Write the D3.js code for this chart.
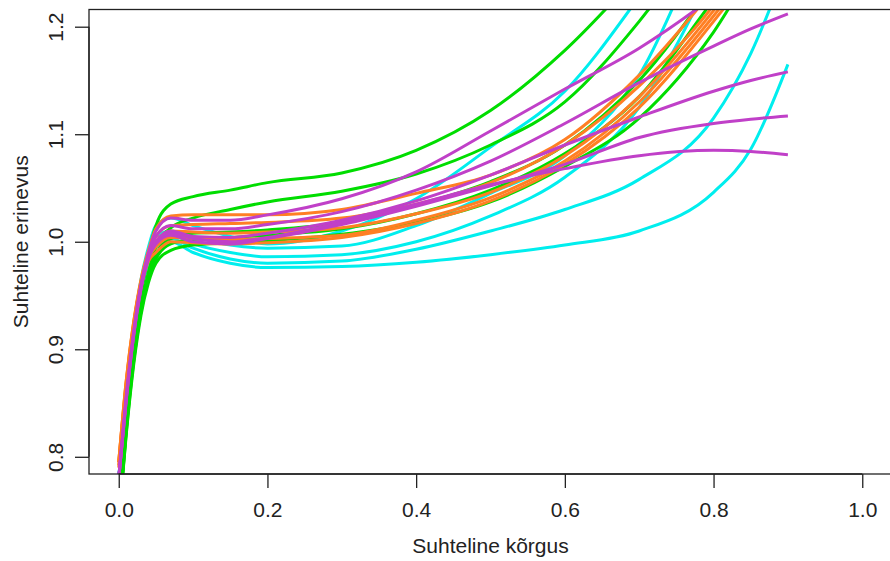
<!DOCTYPE html>
<html>
<head>
<meta charset="utf-8">
<script src="https://cdn.jsdelivr.net/npm/d3@7"></script>
<style>
  body { margin: 0; background: #fff; }
  svg { display: block; font-family: "Liberation Sans", Arial, sans-serif; }
</style>
</head>
<body>
<div id="chart"></div>
<script>
// relative height grid shared by all curves
const heights = [0, 0.01, 0.02, 0.03, 0.04, 0.05, 0.07, 0.1, 0.15, 0.2, 0.3, 0.4, 0.5, 0.6, 0.7, 0.8, 0.85, 0.9];

const cyanSeries = [
  [0.78, 0.86, 0.92, 0.965, 0.995, 1.015, 1.022, 1.015, 1.005, 0.998, 1.01, 1.04, 1.088, 1.14, 1.228, 1.33, 1.38, 1.43],
  [0.78, 0.86, 0.92, 0.962, 0.99, 1.005, 1.01, 1.005, 0.997, 0.994, 0.996, 1.015, 1.045, 1.08, 1.155, 1.3, 1.36, 1.42],
  [0.78, 0.855, 0.915, 0.958, 0.985, 1.0, 1.006, 0.998, 0.99, 0.986, 0.988, 1.0, 1.024, 1.06, 1.125, 1.25, 1.32, 1.4],
  [0.78, 0.852, 0.912, 0.955, 0.983, 0.998, 1.003, 0.994, 0.984, 0.98, 0.982, 0.993, 1.01, 1.03, 1.058, 1.115, 1.175, 1.26],
  [0.78, 0.85, 0.91, 0.953, 0.98, 0.995, 1.0, 0.99, 0.98, 0.976, 0.977, 0.981, 0.988, 0.997, 1.01, 1.046, 1.086, 1.165]
];

const greenSeries = [
  [0.74, 0.83, 0.9, 0.95, 0.988, 1.015, 1.035, 1.042, 1.048, 1.055, 1.064, 1.085, 1.122, 1.178, 1.25, 1.33, 1.37, 1.42],
  [0.74, 0.825, 0.893, 0.94, 0.972, 0.995, 1.013, 1.022, 1.03, 1.037, 1.047, 1.063, 1.09, 1.13, 1.205, 1.3, 1.35, 1.4],
  [0.74, 0.825, 0.89, 0.937, 0.968, 0.988, 1.003, 1.008, 1.009, 1.011, 1.018, 1.034, 1.056, 1.09, 1.15, 1.24, 1.29, 1.34],
  [0.74, 0.822, 0.888, 0.935, 0.965, 0.984, 0.998, 1.002, 1.004, 1.006, 1.012, 1.026, 1.048, 1.082, 1.135, 1.225, 1.27, 1.32],
  [0.74, 0.82, 0.885, 0.932, 0.962, 0.98, 0.992, 0.997, 0.999, 1.001, 1.007, 1.018, 1.037, 1.07, 1.115, 1.195, 1.25, 1.3]
];

const orangeSeries = [
  [0.795, 0.87, 0.925, 0.965, 0.992, 1.012, 1.024, 1.025, 1.025, 1.025, 1.03, 1.045, 1.062, 1.095, 1.155, 1.235, 1.28, 1.33],
  [0.795, 0.87, 0.925, 0.963, 0.99, 1.005, 1.015, 1.016, 1.017, 1.018, 1.022, 1.035, 1.055, 1.09, 1.145, 1.22, 1.27, 1.32],
  [0.795, 0.868, 0.923, 0.962, 0.988, 1.0, 1.01, 1.009, 1.008, 1.009, 1.013, 1.026, 1.046, 1.08, 1.135, 1.215, 1.26, 1.31],
  [0.792, 0.866, 0.921, 0.96, 0.985, 0.995, 1.004, 1.003, 1.002, 1.003, 1.006, 1.02, 1.041, 1.075, 1.13, 1.21, 1.255, 1.3],
  [0.79, 0.864, 0.92, 0.958, 0.982, 0.99, 1.0, 0.999, 0.998, 0.999, 1.004, 1.017, 1.038, 1.072, 1.125, 1.205, 1.25, 1.3]
];

const magentaSeries = [
  [0.78, 0.855, 0.915, 0.96, 0.99, 1.01, 1.022, 1.02, 1.02, 1.025, 1.04, 1.065, 1.103, 1.142, 1.18, 1.228, 1.255, 1.28],
  [0.78, 0.855, 0.915, 0.96, 0.988, 1.005, 1.015, 1.012, 1.012, 1.016, 1.028, 1.048, 1.075, 1.11, 1.148, 1.182, 1.198, 1.212],
  [0.78, 0.853, 0.913, 0.958, 0.986, 1.0, 1.01, 1.005, 1.004, 1.008, 1.02, 1.038, 1.062, 1.09, 1.116, 1.14, 1.15, 1.158],
  [0.78, 0.852, 0.912, 0.956, 0.984, 0.998, 1.006, 1.0, 0.998, 1.003, 1.016, 1.033, 1.052, 1.072, 1.097, 1.11, 1.114, 1.117],
  [0.78, 0.853, 0.913, 0.957, 0.985, 1.0, 1.008, 1.003, 1.0, 1.004, 1.018, 1.035, 1.053, 1.068, 1.08, 1.085, 1.084, 1.081]
];

const xTicks = [0, 0.2, 0.4, 0.6, 0.8, 1.0];
const yTicks = [0.8, 0.9, 1.0, 1.1, 1.2];

const groups = [
  { color: '#00eeee', series: cyanSeries },
  { color: '#00dd00', series: greenSeries },
  { color: '#ff7f24', series: orangeSeries },
  { color: '#c040c8', series: magentaSeries }
];

const width = 890;
const height = 561;
const plot = { left: 89, top: 9.5, right: 892, bottom: 474 };
const ink = '#222';
const fontSize = '21px';

const svg = d3.select('#chart')
  .append('svg')
  .attr('width', width)
  .attr('height', height);

// R style: axis limits extended by 4%
const x = d3.scaleLinear().domain([-0.04, 1.04]).range([plot.left, plot.right]);
const y = d3.scaleLinear().domain([0.784, 1.216]).range([plot.bottom, plot.top]);

svg.append('clipPath')
  .attr('id', 'plot-clip')
  .append('rect')
  .attr('x', plot.left)
  .attr('y', plot.top)
  .attr('width', plot.right - plot.left)
  .attr('height', plot.bottom - plot.top);

const line = d3.line()
  .x((d, i) => x(heights[i]))
  .y(d => y(d))
  .curve(d3.curveMonotoneX);

const curves = svg.append('g').attr('clip-path', 'url(#plot-clip)');

groups.forEach(g => {
  curves.selectAll(null)
    .data(g.series)
    .enter()
    .append('path')
    .attr('fill', 'none')
    .attr('stroke', g.color)
    .attr('stroke-width', 3)
    .attr('stroke-linejoin', 'round')
    .attr('d', line);
});

// box
svg.append('rect')
  .attr('x', plot.left)
  .attr('y', plot.top)
  .attr('width', plot.right - plot.left)
  .attr('height', plot.bottom - plot.top)
  .attr('fill', 'none')
  .attr('stroke', ink)
  .attr('stroke-width', 1.3);

svg.append('g')
  .attr('transform', `translate(0,${plot.bottom})`)
  .call(d3.axisBottom(x).tickValues(xTicks).tickFormat(d3.format('.1f')).tickSize(14).tickPadding(14))
  .call(g => g.select('.domain').attr('d', `M${x(0)},0H${x(1)}`).attr('stroke', ink).attr('stroke-width', 1.3))
  .call(g => g.selectAll('.tick line').attr('stroke', ink).attr('stroke-width', 1.3))
  .call(g => g.selectAll('text').attr('fill', ink).style('font-size', fontSize).attr('font-family', '"Liberation Sans", Arial, sans-serif'));

const yAxis = svg.append('g')
  .attr('transform', `translate(${plot.left},0)`)
  .call(d3.axisLeft(y).tickValues(yTicks).tickFormat(d3.format('.1f')).tickSize(14))
  .call(g => g.select('.domain').attr('d', `M0,${y(0.8)}V${y(1.2)}`).attr('stroke', ink).attr('stroke-width', 1.3))
  .call(g => g.selectAll('.tick line').attr('stroke', ink).attr('stroke-width', 1.3));

// R draws y tick labels parallel to the axis
yAxis.selectAll('.tick text')
  .attr('x', null)
  .attr('dy', null)
  .attr('transform', 'translate(-34,0) rotate(-90)')
  .attr('text-anchor', 'middle')
  .attr('dominant-baseline', 'central')
  .attr('fill', ink)
  .style('font-size', fontSize)
  .attr('font-family', '"Liberation Sans", Arial, sans-serif');

svg.append('text')
  .attr('x', (plot.left + plot.right) / 2)
  .attr('y', 553)
  .attr('text-anchor', 'middle')
  .attr('fill', ink)
  .style('font-size', fontSize)
  .text('Suhteline kõrgus');

svg.append('text')
  .attr('transform', `translate(20,${(plot.top + plot.bottom) / 2}) rotate(-90)`)
  .attr('text-anchor', 'middle')
  .attr('dominant-baseline', 'central')
  .attr('fill', ink)
  .style('font-size', fontSize)
  .text('Suhteline erinevus');
</script>
</body>
</html>
